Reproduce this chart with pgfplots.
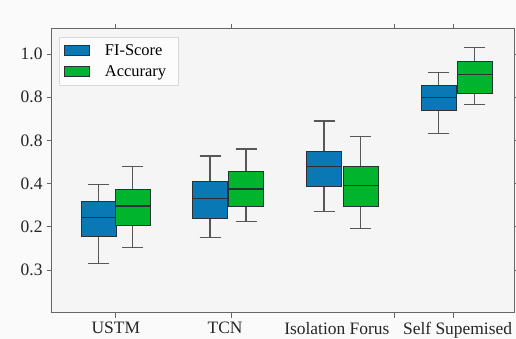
\documentclass[border=0pt]{standalone}
\usepackage{fontspec}
\setmainfont{Liberation Serif}
\usepackage{pgfplots}
\pgfplotsset{compat=1.18}
\usepgfplotslibrary{statistics}
\definecolor{bblue}{HTML}{0A78B4}
\definecolor{bgreen}{HTML}{00B52E}
\definecolor{edge}{HTML}{2A3236}
\begin{document}
\begin{tikzpicture}
\fill[black!2] (-52bp,-26.3bp) rectangle (464bp,312.7bp);
\begin{axis}[
  scale only axis, width=462bp, height=283.7bp,
  xmin=0.438, xmax=4.507, ymin=-0.198, ymax=1.116,
  axis background/.style={fill=black!4},
  axis line style={draw=black!60, line width=1bp},
  tick style={draw=black!60, line width=0.8bp},
  tick align=outside, major tick length=5bp,
  xtick={1,2.017,3.452,3.973}, xticklabels={},
  extra x ticks={1,1.963,2.947,4.01},
  extra x tick labels={USTM,TCN,Isolation Forus,Self Supemised},
  extra x tick style={major tick length=0pt, xticklabel style={yshift=-6bp}},
  ytick={0,0.2,0.4,0.6,0.8,1.0},
  yticklabels={\textrm{0.3},\textrm{0.2},\textrm{0.4},\textrm{0.8},\textrm{0.8},\textrm{1.0}},
  yticklabel style={xshift=-1bp},
  ticklabel style={font=\fontsize{17.5}{20}\selectfont, text=black!85},
  boxplot/draw direction=y,
  boxplot/box extend=0.31,
  boxplot/whisker extend=0.185,
  boxplot/every whisker/.style={draw=black!66, line width=1.1bp},
  boxplot/every median/.style={draw=edge, line width=1.3bp},
  boxplot/every box/.style={draw=edge, line width=0.9bp},
  legend image code/.code={\draw[#1, draw=edge, line width=0.8bp] (0bp,-5bp) rectangle (25bp,5bp);},
  legend style={at={(0.015,0.972)}, anchor=north west, draw=black!15, fill=black!1,
    font=\fontsize{16.5}{18}\selectfont, cells={anchor=west},
    nodes={inner xsep=7bp, inner ysep=3bp},
    /tikz/every odd column/.append style={column sep=8bp},
    inner xsep=5bp, inner ysep=4bp, row sep=3bp},
]
% FI-Score (blue) / Accurary (green)
\addplot[fill=bblue, draw=edge, boxplot prepared={draw position=0.851,
  lower whisker=0.028, lower quartile=0.154, median=0.242, upper quartile=0.315, upper whisker=0.397}]
  coordinates {};
\addlegendentry{FI-Score}
\addplot[fill=bgreen, draw=edge, boxplot prepared={draw position=1.149,
  lower whisker=0.105, lower quartile=0.208, median=0.296, upper quartile=0.374, upper whisker=0.481}]
  coordinates {};
\addlegendentry{Accurary}
\addplot[forget plot, fill=bblue, draw=edge, boxplot prepared={draw position=1.830,
  lower whisker=0.150, lower quartile=0.239, median=0.332, upper quartile=0.409, upper whisker=0.528}]
  coordinates {};
\addplot[forget plot, fill=bgreen, draw=edge, boxplot prepared={draw position=2.147,
  lower whisker=0.224, lower quartile=0.293, median=0.375, upper quartile=0.454, upper whisker=0.560}]
  coordinates {};
\addplot[forget plot, fill=bblue, draw=edge, boxplot prepared={draw position=2.834,
  lower whisker=0.269, lower quartile=0.389, median=0.478, upper quartile=0.551, upper whisker=0.690}]
  coordinates {};
\addplot[forget plot, fill=bgreen, draw=edge, boxplot prepared={draw position=3.157,
  lower whisker=0.193, lower quartile=0.296, median=0.392, upper quartile=0.478, upper whisker=0.619}]
  coordinates {};
\addplot[forget plot, fill=bblue, draw=edge, boxplot prepared={draw position=3.844,
  lower whisker=0.633, lower quartile=0.738, median=0.798, upper quartile=0.853, upper whisker=0.915}]
  coordinates {};
\addplot[forget plot, fill=bgreen, draw=edge, boxplot prepared={draw position=4.163,
  lower whisker=0.765, lower quartile=0.818, median=0.906, upper quartile=0.964, upper whisker=1.031}]
  coordinates {};
\end{axis}
\pgfresetboundingbox
\path (-52bp,-26.3bp) rectangle (464bp,312.7bp);
\end{tikzpicture}
\end{document}
